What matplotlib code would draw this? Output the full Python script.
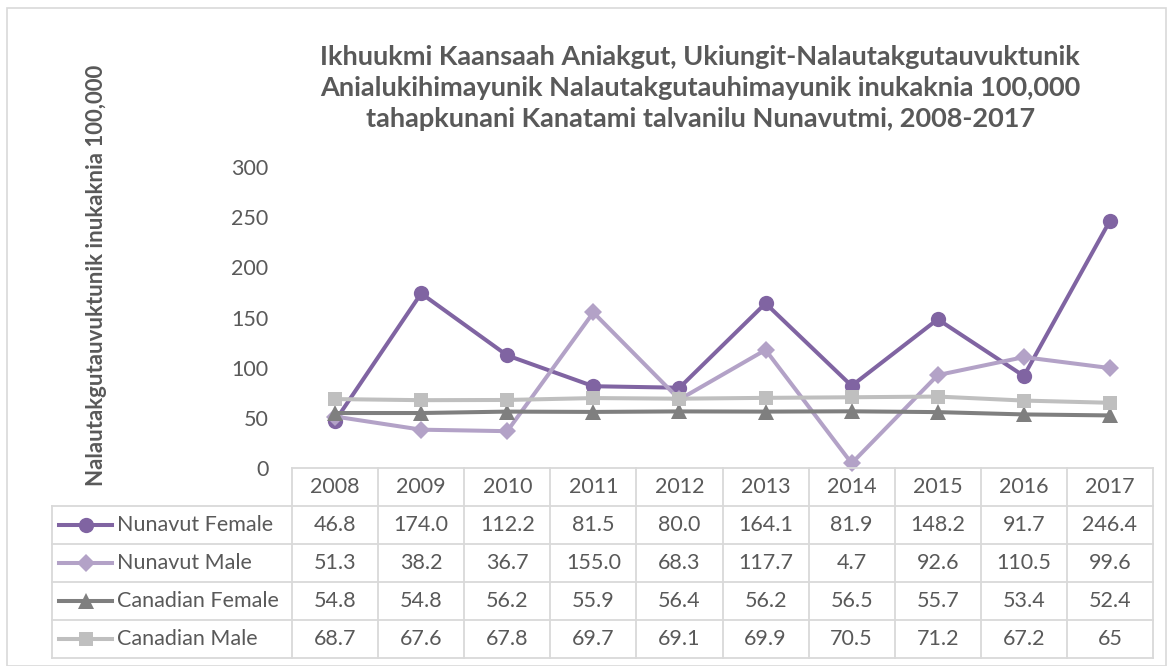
import matplotlib.pyplot as plt
from matplotlib.patches import Rectangle
from matplotlib.lines import Line2D

plt.rcParams['font.family'] = ['Lato', 'DejaVu Sans']

# data
years = [2008, 2009, 2010, 2011, 2012, 2013, 2014, 2015, 2016, 2017]
nunavut_female = [46.8, 174.0, 112.2, 81.5, 80.0, 164.1, 81.9, 148.2, 91.7, 246.4]
nunavut_male = [51.3, 38.2, 36.7, 155.0, 68.3, 117.7, 4.7, 92.6, 110.5, 99.6]
canadian_female = [54.8, 54.8, 56.2, 55.9, 56.4, 56.2, 56.5, 55.7, 53.4, 52.4]
canadian_male = [68.7, 67.6, 67.8, 69.7, 69.1, 69.9, 70.5, 71.2, 67.2, 65]
series_names = ['Nunavut Female', 'Nunavut Male', 'Canadian Female', 'Canadian Male']
y_ticks = [0, 50, 100, 150, 200, 250, 300]

title = ("Ikhuukmi Kaansaah Aniakgut, Ukiungit-Nalautakgutauvuktunik\n"
         "Anialukihimayunik Nalautakgutauhimayunik inukaknia 100,000\n"
         "tahapkunani Kanatami talvanilu Nunavutmi, 2008-2017")
ylabel = "Nalautakgutauvuktunik inukaknia 100,000"

series = [nunavut_female, nunavut_male, canadian_female, canadian_male]
colors = ['#8064A2', '#B3A2C7', '#7F7F7F', '#BFBFBF']
markers = ['o', 'D', '^', 's']
msizes = [11, 9, 11, 10.5]
TXT = '#595959'
GRID = '#D9D9D9'
FS = 15.5

W, H = 1173, 666
fig = plt.figure(figsize=(W / 100, H / 100), dpi=100)


def box(x0, y0, x1, y1):  # pixel box (top-left origin) -> figure fraction
    return [x0 / W, 1 - y1 / H, (x1 - x0) / W, (y1 - y0) / H]


# outer chart border
fig.patches.append(Rectangle((7 / W, 0), (1166 - 7) / W, 1 - 8 / H,
                             transform=fig.transFigure, fill=False,
                             edgecolor=GRID, lw=1.2))

# plot area
ax = fig.add_axes(box(292, 167, 1153, 468))
x = list(range(len(years)))
for vals, c, m, ms in zip(series, colors, markers, msizes):
    ax.plot(x, vals, color=c, lw=2.9, marker=m, markersize=ms,
            markeredgewidth=0, clip_on=False)
ax.set_xlim(-0.5, len(years) - 0.5)
ax.set_ylim(0, 300)
ax.set_yticks(y_ticks)
ax.set_xticks([])
ax.tick_params(axis='y', length=0, pad=17, labelsize=FS, labelcolor=TXT)
for s in ax.spines.values():
    s.set_visible(False)

fig.text(0.597, 1 - 88 / H, title, ha='center', va='center', fontsize=19.5,
         fontweight='bold', color=TXT, linespacing=1.33)
fig.text(97 / W, 1 - 275 / H, ylabel, rotation=90, ha='center', va='center',
         fontsize=16, fontweight='bold', color=TXT)

# data table
leg_w = (292 - 52) / ((1153 - 292) / len(years))
tx = fig.add_axes(box(52, 468, 1153, 658))
tx.set_xlim(-0.5 - leg_w, len(years) - 0.5)
tx.set_ylim(5, 0)
tx.axis('off')
left = -0.5 - leg_w
right = len(years) - 0.5
lk = dict(color=GRID, lw=1.3, clip_on=False)
tx.plot([-0.5, right], [0, 0], **lk)
for r in range(1, 6):
    tx.plot([left, right], [r, r], **lk)
tx.plot([left, left], [1, 5], **lk)
for c in range(len(years) + 1):
    tx.plot([c - 0.5, c - 0.5], [0, 5], **lk)

for i, yr in enumerate(years):
    tx.text(i, 0.5, str(yr), ha='center', va='center', fontsize=FS, color=TXT)
for r, (name, vals, c, m, ms) in enumerate(zip(series_names, series, colors, markers, msizes)):
    yy = r + 1.5
    tx.add_line(Line2D([left + 0.08, left + 0.7], [yy, yy], color=c, lw=2.9))
    tx.plot([left + 0.39], [yy], marker=m, color=c, markersize=ms, markeredgewidth=0)
    tx.text(left + 0.75, yy, name, ha='left', va='center', fontsize=FS, color=TXT)
    for i, v in enumerate(vals):
        tx.text(i, yy, str(v), ha='center', va='center', fontsize=FS, color=TXT)

fig.savefig('out.png', dpi=100)
